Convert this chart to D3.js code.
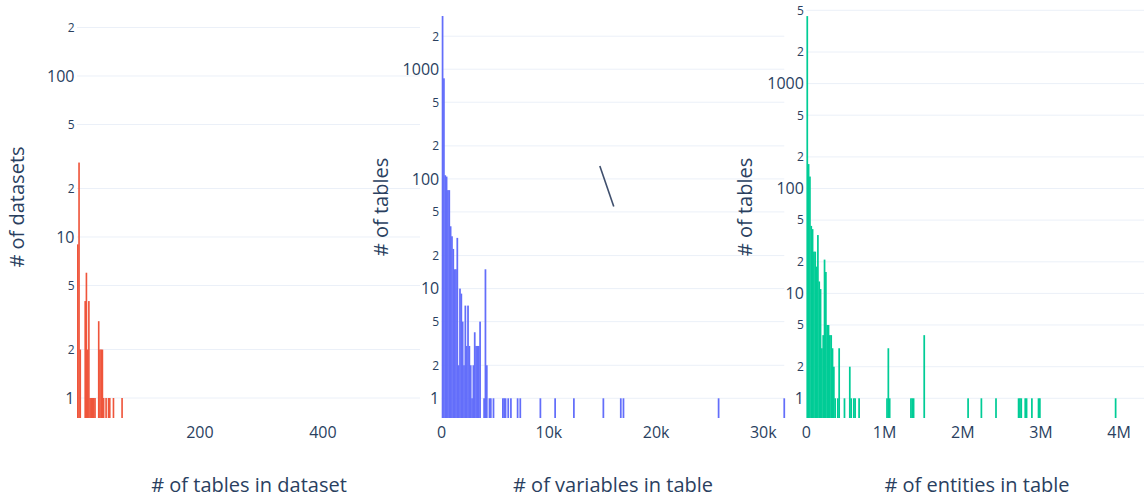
<!DOCTYPE html>
<html lang="en">
<head>
    <meta charset="UTF-8">
    <title>Histograms</title>
    <script src="https://d3js.org/d3.v7.min.js"></script>
    <style>
        body, html {
            margin: 0;
            background-color: #ffffff;
            font-family: 'Open Sans', sans-serif;
        }
        .grid line {
            stroke: #ebf0f8;
            stroke-width: 1px;
        }
        .tick-label {
            fill: #2a3f5f;
        }
        .axis-title {
            fill: #2a3f5f;
            font-size: 20px;
        }
    </style>
</head>
<body>

<svg id="chart" width="1144" height="494"></svg>

<script>
    // left: # of tables in dataset (bin width 2)
    const leftBinWidth = 2;
    const leftBinStart = [0, 2, 4, 12, 14, 16, 18, 20, 22, 24, 26, 28, 34, 36, 38, 40, 42, 46, 50, 52, 58, 72];
    const leftCounts   = [9, 29, 2, 4, 6, 2, 4, 1, 1, 1, 1, 1, 3, 2, 2, 2, 1, 1, 1, 1, 1, 1];

    // middle: # of variables in table (bin width 125)
    const midBinWidth = 125;
    const midBinStart = [0, 125, 250, 375, 500, 625, 750, 875, 1000, 1125, 1250, 1375, 1500, 1625, 1750, 1875,
        2000, 2125, 2250, 2375, 2500, 2625, 2750, 2875, 3000, 3125, 3250, 3375, 3500, 3875, 4000, 4125,
        4375, 4500, 4750, 5625, 5750, 5875, 6125, 6375, 7000, 7250, 9125, 10500, 12250, 15000, 16625,
        16875, 25750, 31875];
    const midCounts = [3055, 826, 108, 105, 79, 79, 37, 30, 23, 15, 15, 29, 2, 10, 9, 5,
        2, 7, 3, 7, 3, 2, 1, 2, 4, 3, 3, 3, 5, 1, 15, 2,
        1, 1, 1, 1, 1, 1, 1, 1, 1, 1, 1, 1, 1, 1, 1,
        1, 1, 1];

    // right: # of entities in table (bin width 17000)
    const rightBinWidth = 17000;
    const rightBinStart = [0, 17000, 34000, 51000, 68000, 85000, 102000, 119000, 136000, 153000, 170000,
        187000, 204000, 221000, 238000, 255000, 272000, 289000, 306000, 323000, 340000, 357000, 391000,
        408000, 476000, 544000, 561000, 595000, 612000, 663000, 1020000, 1037000, 1054000, 1326000,
        1343000, 1360000, 1496000, 2057000, 2227000, 2414000, 2703000, 2720000, 2737000, 2788000,
        2805000, 2873000, 2958000, 2975000, 3944000];
    const rightCounts = [4400, 171, 130, 44, 41, 25, 25, 18, 36, 13, 11,
        3, 4, 21, 16, 5, 5, 4, 4, 3, 2, 1, 1,
        3, 1, 2, 1, 1, 1, 1, 1, 3, 1, 1,
        1, 1, 4, 1, 1, 1, 1, 1, 1, 1,
        1, 1, 1, 1, 1];

    const leftXTicks = [200, 400];
    const midXTicks = [0, 10000, 20000, 30000];
    const rightXTicks = [0, 1000000, 2000000, 3000000, 4000000];
    const leftYTicks = [1, 2, 5, 10, 20, 50, 100, 200];
    const midYTicks = [1, 2, 5, 10, 20, 50, 100, 200, 500, 1000, 2000];
    const rightYTicks = [1, 2, 5, 10, 20, 50, 100, 200, 500, 1000, 2000, 5000];

    // stray line drawn in the middle panel (data units)
    const midStrokeX = [14750, 16050];
    const midStrokeY = [131, 56];

    const svg = d3.select("#chart");
    const bottom = 418;

    const panels = [
        {
            bins: leftBinStart, counts: leftCounts, width: leftBinWidth, color: "#ef553b",
            x: d3.scaleLinear().domain([0, 558]).range([77, 420]),
            y: d3.scaleLog().domain([Math.pow(10, -0.1242), Math.pow(10, 2.472)]).range([bottom, 0]),
            xTicks: leftXTicks, yTicks: leftYTicks, xFmt: d => d,
            xTitle: "# of tables in dataset", xTitleX: 249,
            yTitle: "# of datasets", yTitleX: 17
        },
        {
            bins: midBinStart, counts: midCounts, width: midBinWidth, color: "#636efa",
            x: d3.scaleLinear().domain([0, 31960]).range([441.7, 784.3]),
            y: d3.scaleLog().domain([Math.pow(10, -0.1796), Math.pow(10, 3.631)]).range([bottom, 0]),
            xTicks: midXTicks, yTicks: midYTicks, xFmt: d => d === 0 ? "0" : (d / 1000) + "k",
            xTitle: "# of variables in table", xTitleX: 613,
            yTitle: "# of tables", yTitleX: 381
        },
        {
            bins: rightBinStart, counts: rightCounts, width: rightBinWidth, color: "#00cc96",
            x: d3.scaleLinear().domain([0, 4318000]).range([806.4, 1144]),
            y: d3.scaleLog().domain([Math.pow(10, -0.1878), Math.pow(10, 3.797)]).range([bottom, 0]),
            xTicks: rightXTicks, yTicks: rightYTicks, xFmt: d => d === 0 ? "0" : (d / 1000000) + "M",
            xTitle: "# of entities in table", xTitleX: 977,
            yTitle: "# of tables", yTitleX: 745
        }
    ];

    function isDecade(v) {
        return Math.abs(Math.log10(v) - Math.round(Math.log10(v))) < 1e-9;
    }

    // gridlines first
    panels.forEach(p => {
        const [x0, x1] = p.x.range();
        svg.append("g").attr("class", "grid")
            .selectAll("line")
            .data(p.yTicks)
            .enter().append("line")
            .attr("x1", x0).attr("x2", x1)
            .attr("y1", d => p.y(d)).attr("y2", d => p.y(d));
    });

    // bars (a little overlap so neighbouring bins don't show seams)
    panels.forEach(p => {
        const data = p.bins.map((b, i) => ({x0: b, x1: b + p.width, n: p.counts[i]}));
        svg.append("g")
            .selectAll("rect")
            .data(data)
            .enter().append("rect")
            .attr("x", d => p.x(d.x0))
            .attr("width", d => Math.max(1, p.x(d.x1) - p.x(d.x0)) + 0.4)
            .attr("y", d => p.y(d.n))
            .attr("height", d => bottom - p.y(d.n))
            .attr("fill", p.color);
    });

    // stray stroke in the middle panel
    svg.append("line")
        .attr("x1", panels[1].x(midStrokeX[0])).attr("y1", panels[1].y(midStrokeY[0]))
        .attr("x2", panels[1].x(midStrokeX[1])).attr("y2", panels[1].y(midStrokeY[1]))
        .attr("stroke", "#3f4f6d")
        .attr("stroke-width", 1.6);

    // tick labels and titles on top
    panels.forEach(p => {
        const x0 = p.x.range()[0];

        svg.append("g")
            .selectAll("text")
            .data(p.yTicks)
            .enter().append("text")
            .attr("class", "tick-label")
            .attr("x", x0 - 2.5)
            .attr("y", d => p.y(d))
            .attr("dy", "0.36em")
            .attr("text-anchor", "end")
            .style("font-size", d => isDecade(d) ? "16px" : "12px")
            .text(d => isDecade(d) ? d : String(d)[0]);

        svg.append("g")
            .selectAll("text")
            .data(p.xTicks)
            .enter().append("text")
            .attr("class", "tick-label")
            .attr("x", d => p.x(d))
            .attr("y", 438)
            .attr("text-anchor", "middle")
            .style("font-size", "16px")
            .text(p.xFmt);

        svg.append("text")
            .attr("class", "axis-title")
            .attr("x", p.xTitleX)
            .attr("y", 492)
            .attr("text-anchor", "middle")
            .text(p.xTitle);

        svg.append("text")
            .attr("class", "axis-title")
            .attr("transform", `translate(${p.yTitleX},207) rotate(-90)`)
            .attr("dy", "0.35em")
            .attr("text-anchor", "middle")
            .text(p.yTitle);
    });
</script>

</body>
</html>
